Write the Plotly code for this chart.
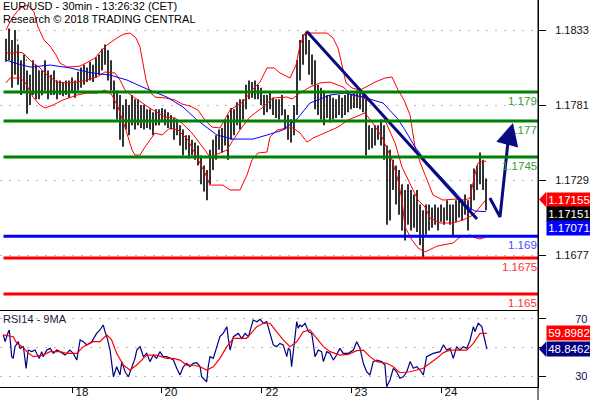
import plotly.graph_objects as go

# ---------------- data ----------------
bar_index = list(range(161))
high = [1.1827, 1.1834, 1.1826, 1.1833, 1.1823, 1.1812, 1.1816, 1.1805, 1.1802, 1.1812,
        1.1809, 1.1805, 1.1805, 1.1812, 1.1805, 1.1802, 1.1805, 1.1798, 1.1798, 1.1797,
        1.1798, 1.1798, 1.1800, 1.1798, 1.1804, 1.1807, 1.1809, 1.1807, 1.1811, 1.1809,
        1.1814, 1.1816, 1.1820, 1.1823, 1.1819, 1.1812, 1.1798, 1.1791, 1.1788, 1.1781,
        1.1785, 1.1781, 1.1788, 1.1785, 1.1785, 1.1781, 1.1781, 1.1778, 1.1778, 1.1776,
        1.1778, 1.1778, 1.1779, 1.1778, 1.1776, 1.1774, 1.1772, 1.1771, 1.1767, 1.1764,
        1.1760, 1.1760, 1.1757, 1.1755, 1.1753, 1.1746, 1.1739, 1.1736, 1.1750, 1.1757,
        1.1760, 1.1764, 1.1765, 1.1771, 1.1774, 1.1779, 1.1778, 1.1783, 1.1785, 1.1785,
        1.1795, 1.1798, 1.1797, 1.1798, 1.1795, 1.1793, 1.1788, 1.1788, 1.1790, 1.1786,
        1.1785, 1.1785, 1.1788, 1.1778, 1.1774, 1.1771, 1.1781, 1.1812, 1.1826, 1.1830,
        1.1832, 1.1826, 1.1816, 1.1812, 1.1795, 1.1793, 1.1791, 1.1788, 1.1788, 1.1786,
        1.1785, 1.1788, 1.1786, 1.1788, 1.1790, 1.1788, 1.1790, 1.1791, 1.1790, 1.1788,
        1.1785, 1.1767, 1.1765, 1.1767, 1.1767, 1.1771, 1.1767, 1.1753, 1.1750, 1.1743,
        1.1739, 1.1736, 1.1726, 1.1722, 1.1726, 1.1722, 1.1719, 1.1722, 1.1712, 1.1708,
        1.1712, 1.1712, 1.1710, 1.1712, 1.1710, 1.1712, 1.1710, 1.1715, 1.1712, 1.1712,
        1.1715, 1.1717, 1.1715, 1.1719, 1.1715, 1.1726, 1.1737, 1.1739, 1.1748, 1.1743,
        1.1730]
low = [1.1811, 1.1812, 1.1793, 1.1802, 1.1795, 1.1788, 1.1791, 1.1775, 1.1781, 1.1788,
       1.1785, 1.1785, 1.1788, 1.1791, 1.1785, 1.1788, 1.1788, 1.1785, 1.1788, 1.1787,
       1.1788, 1.1786, 1.1790, 1.1786, 1.1791, 1.1793, 1.1795, 1.1797, 1.1798, 1.1797,
       1.1800, 1.1802, 1.1805, 1.1809, 1.1798, 1.1791, 1.1778, 1.1771, 1.1757, 1.1752,
       1.1764, 1.1760, 1.1767, 1.1764, 1.1767, 1.1765, 1.1764, 1.1765, 1.1764, 1.1760,
       1.1767, 1.1767, 1.1769, 1.1767, 1.1765, 1.1764, 1.1757, 1.1760, 1.1753, 1.1746,
       1.1750, 1.1744, 1.1746, 1.1743, 1.1739, 1.1726, 1.1721, 1.1715, 1.1726, 1.1736,
       1.1743, 1.1750, 1.1748, 1.1753, 1.1743, 1.1757, 1.1760, 1.1767, 1.1764, 1.1771,
       1.1778, 1.1785, 1.1786, 1.1785, 1.1785, 1.1781, 1.1774, 1.1776, 1.1778, 1.1774,
       1.1772, 1.1771, 1.1774, 1.1764, 1.1757, 1.1755, 1.1760, 1.1774, 1.1798, 1.1809,
       1.1816, 1.1802, 1.1795, 1.1778, 1.1774, 1.1771, 1.1767, 1.1772, 1.1769, 1.1771,
       1.1772, 1.1774, 1.1772, 1.1774, 1.1776, 1.1778, 1.1779, 1.1779, 1.1778, 1.1776,
       1.1746, 1.1750, 1.1751, 1.1753, 1.1757, 1.1753, 1.1743, 1.1698, 1.1701, 1.1722,
       1.1712, 1.1705, 1.1694, 1.1687, 1.1698, 1.1694, 1.1696, 1.1693, 1.1684, 1.1675,
       1.1691, 1.1694, 1.1696, 1.1698, 1.1694, 1.1700, 1.1698, 1.1701, 1.1698, 1.1690,
       1.1700, 1.1703, 1.1701, 1.1705, 1.1694, 1.1708, 1.1715, 1.1722, 1.1726, 1.1722,
       1.1708]
close = [1.1823, 1.1816, 1.1805, 1.1826, 1.1798, 1.1795, 1.1812, 1.1788, 1.1798, 1.1791,
         1.1805, 1.1788, 1.1802, 1.1795, 1.1798, 1.1791, 1.1798, 1.1795, 1.1791, 1.1793,
         1.1795, 1.1790, 1.1795, 1.1793, 1.1800, 1.1802, 1.1798, 1.1804, 1.1802, 1.1805,
         1.1811, 1.1809, 1.1816, 1.1812, 1.1805, 1.1795, 1.1788, 1.1778, 1.1767, 1.1774,
         1.1771, 1.1778, 1.1774, 1.1779, 1.1772, 1.1776, 1.1767, 1.1774, 1.1771, 1.1767,
         1.1772, 1.1774, 1.1772, 1.1771, 1.1772, 1.1767, 1.1764, 1.1765, 1.1757, 1.1753,
         1.1755, 1.1750, 1.1751, 1.1748, 1.1743, 1.1733, 1.1729, 1.1726, 1.1743, 1.1750,
         1.1755, 1.1757, 1.1760, 1.1764, 1.1767, 1.1772, 1.1771, 1.1778, 1.1774, 1.1781,
         1.1791, 1.1791, 1.1793, 1.1790, 1.1788, 1.1785, 1.1781, 1.1785, 1.1781, 1.1778,
         1.1779, 1.1774, 1.1776, 1.1767, 1.1764, 1.1765, 1.1778, 1.1805, 1.1816, 1.1823,
         1.1819, 1.1812, 1.1802, 1.1788, 1.1785, 1.1781, 1.1778, 1.1785, 1.1774, 1.1778,
         1.1779, 1.1781, 1.1776, 1.1785, 1.1781, 1.1785, 1.1786, 1.1788, 1.1781, 1.1785,
         1.1760, 1.1757, 1.1760, 1.1764, 1.1762, 1.1765, 1.1750, 1.1715, 1.1733, 1.1736,
         1.1726, 1.1715, 1.1708, 1.1705, 1.1715, 1.1705, 1.1708, 1.1701, 1.1694, 1.1698,
         1.1705, 1.1701, 1.1705, 1.1707, 1.1701, 1.1708, 1.1705, 1.1710, 1.1705, 1.1707,
         1.1710, 1.1712, 1.1708, 1.1712, 1.1708, 1.1719, 1.1733, 1.1736, 1.1739, 1.1729,
         1.17151]
# open of each 30-min bar = previous bar's close
open_ = [close[0]] + close[:-1]

upper_x = [0, 2, 4.67, 7.33, 9.33, 10.67, 12.67, 14.67, 16.67, 18,
           20.33, 24.67, 27.33, 29.67, 31.33, 33.67, 37, 39.33, 41.33, 43.33,
           44.67, 45.67, 46.67, 48, 49.67, 53, 56.33, 58.67, 61.33, 64,
           66.33, 68.67, 71.33, 74.67, 79, 82, 84.67, 87, 89.33, 91.33,
           94.67, 96.67, 98, 99.67, 103, 107, 109, 110.67, 112, 113.33,
           115.33, 118, 120.67, 123, 126.33, 128.67, 130.67, 132.67, 134.67, 136.33,
           138, 140.33, 142.33, 145.67, 149.67, 153, 154.67, 156, 157.33, 160]
upper_y = [1.18330, 1.18413, 1.18483, 1.18503, 1.18455, 1.18351, 1.18261, 1.18219, 1.18157, 1.18101,
           1.18073, 1.18080, 1.18108, 1.18136, 1.18177, 1.18226, 1.18275, 1.18302, 1.18309, 1.18275,
           1.18212, 1.18108, 1.17983, 1.17900, 1.17865, 1.17859, 1.17845, 1.17817, 1.17803, 1.17775,
           1.17706, 1.17657, 1.17651, 1.17775, 1.17831, 1.17914, 1.17969, 1.18067, 1.18067, 1.18032,
           1.17997, 1.18087, 1.18226, 1.18309, 1.18309, 1.18309, 1.18275, 1.18205, 1.18087, 1.17963,
           1.17928, 1.17914, 1.17942, 1.17969, 1.17997, 1.18004, 1.17914, 1.17845, 1.17741, 1.17519,
           1.17415, 1.17290, 1.17186, 1.17151, 1.17158, 1.17151, 1.17165, 1.17304, 1.17408, 1.17422]

mid_x = [0, 2, 3.67, 5.67, 7.33, 9, 11.33, 13.67, 17, 20.33,
         23.67, 27, 30.33, 33, 36.33, 38, 39.67, 42, 44, 47.33,
         50.67, 53, 56.33, 58.67, 62, 65.33, 68, 71.33, 73.67, 75.67,
         78, 81.33, 85.67, 89, 93.67, 95.33, 98, 101.33, 104.67, 108,
         112.33, 115.33, 118.67, 122, 125.33, 127.33, 129.67, 132, 135.33, 137.33,
         139.67, 141.33, 144.67, 149, 152.33, 155.67, 158, 160]
mid_y = [1.18171, 1.18171, 1.18177, 1.18171, 1.18136, 1.18101, 1.18067, 1.18018, 1.17969, 1.17963,
         1.17969, 1.17983, 1.18004, 1.18039, 1.18032, 1.17983, 1.17914, 1.17872, 1.17845, 1.17796,
         1.17755, 1.17727, 1.17720, 1.17685, 1.17616, 1.17519, 1.17450, 1.17477, 1.17498, 1.17567,
         1.17637, 1.17727, 1.17796, 1.17859, 1.17865, 1.17852, 1.17893, 1.17935, 1.17963, 1.17969,
         1.17935, 1.17879, 1.17865, 1.17824, 1.17755, 1.17657, 1.17547, 1.17380, 1.17242, 1.17151,
         1.17103, 1.17027, 1.16992, 1.16992, 1.17013, 1.17047, 1.17103, 1.17155]

lower_x = [0, 1.33, 4.67, 6.33, 9, 11.33, 13, 15.67, 19, 23.67,
           27, 30.33, 33, 35.33, 37.33, 39.67, 42, 43, 44.67, 46.33,
           49.67, 52, 54.67, 57.33, 60.67, 64, 66.33, 68, 72.33, 74.67,
           78, 80.33, 82, 84, 87, 88, 90.33, 93.67, 95.67, 98,
           100.33, 102.33, 104.67, 107.33, 110.67, 114, 117.33, 119.67, 122, 125.33,
           128.67, 130.67, 132, 133, 135.33, 137.33, 139.67, 143.67, 149, 151.33,
           154.67, 156.67, 158, 160]
lower_y = [1.17963, 1.17997, 1.17997, 1.17969, 1.17865, 1.17810, 1.17789, 1.17810, 1.17845, 1.17879,
           1.17893, 1.17893, 1.17914, 1.17879, 1.17796, 1.17657, 1.17498, 1.17463, 1.17463, 1.17519,
           1.17616, 1.17602, 1.17651, 1.17637, 1.17567, 1.17429, 1.17339, 1.17255, 1.17255, 1.17221,
           1.17221, 1.17325, 1.17429, 1.17477, 1.17484, 1.17588, 1.17637, 1.17651, 1.17651, 1.17616,
           1.17553, 1.17581, 1.17602, 1.17623, 1.17657, 1.17706, 1.17734, 1.17755, 1.17692, 1.17588,
           1.17429, 1.17290, 1.17151, 1.16964, 1.16874, 1.16819, 1.16791, 1.16832, 1.16853, 1.16895,
           1.16909, 1.16888, 1.16881, 1.16895]

ma_x = [0, 3, 8, 14.67, 21.33, 27, 31.33, 34.67, 40.33, 47,
        53.67, 59, 63.67, 70.33, 75.67, 82.33, 87, 92.33, 97, 101.33,
        108, 113, 119, 125.67, 130.33, 133, 136.33, 139.67, 144.67, 149.67,
        154, 156.33, 160]
ma_y = [1.18122, 1.18101, 1.18073, 1.18087, 1.18067, 1.18039, 1.18025, 1.18018, 1.17983, 1.17921,
        1.17865, 1.17796, 1.17706, 1.17602, 1.17574, 1.17574, 1.17602, 1.17637, 1.17713, 1.17824,
        1.17879, 1.17893, 1.17865, 1.17824, 1.17720, 1.17637, 1.17519, 1.17429, 1.17318, 1.17207,
        1.17103, 1.17075, 1.17071]

levels = [1.179, 1.177, 1.1745, 1.169, 1.1675, 1.165]
level_labels = ["1.179", "1.177", "1.1745", "1.169", "1.1675", "1.165"]

trend_x = [100.3, 157.0]
trend_y = [1.18320, 1.17020]
proj_x = [161.3, 164.67, 167.33]
proj_y = [1.17165, 1.17034, 1.17555]
proj_target = (169.0, 1.17686)

rsi_x = [-0.9, -0.3, 0.8, 1.1, 1.9, 2.4, 3.0, 4.1, 4.7, 5.8, 6.7, 7.4, 8.6, 9.7, 10.2, 11.1, 11.9, 12.4,
         13.6, 14.7, 15.8, 16.9, 18.0, 19.7, 21.3, 22.4, 23.6, 24.7, 25.8, 26.9, 28.6, 30.2, 31.3, 32.4,
         33.0, 33.6, 34.7, 35.8, 36.9, 38.0, 38.6, 39.7, 40.8, 41.9, 43.0, 43.6, 44.7, 45.8, 46.9, 48.0,
         49.1, 50.2, 51.3, 52.4, 53.6, 54.7, 55.8, 56.9, 58.0, 59.1, 60.2, 61.3, 62.4, 63.6, 64.7, 65.2,
         65.8, 66.9, 67.4, 68.0, 69.1, 70.2, 71.3, 72.4, 73.6, 74.1, 74.7, 75.8, 77.4, 78.6, 79.7, 80.8,
         82.4, 83.6, 84.7, 85.8, 86.9, 88.0, 89.1, 90.2, 91.3, 92.4, 93.6, 94.1, 94.7, 95.2, 95.8, 96.3,
         96.9, 97.4, 98.0, 98.6, 99.7, 100.8, 101.9, 102.4, 103.0, 104.1, 105.2, 105.8, 106.9, 108.0,
         109.1, 110.2, 111.3, 112.4, 114.1, 115.8, 116.9, 118.0, 119.1, 120.2, 121.3, 122.4, 123.6,
         125.2, 126.3, 126.9, 128.0, 129.1, 130.2, 131.3, 132.4, 133.6, 134.7, 135.8, 136.9, 138.0,
         139.1, 140.2, 141.3, 142.4, 144.7, 145.8, 146.9, 148.0, 149.1, 150.2, 151.3, 152.4, 153.6,
         154.7, 155.8, 156.3, 157.4, 158.6, 159.5, 160.3]
rsi_y = [58.8, 54.1, 61.1, 62.3, 43.6, 42.4, 50.6, 54.1, 49.4, 50.6, 35.4, 48.2, 47.1, 48.2, 45.9, 42.4, 47.1, 43.6,
         48.2, 49.4, 45.9, 48.2, 47.1, 44.7, 48.2, 45.9, 41.2, 55.3, 54.1, 51.8, 54.1, 59.9, 62.3, 65.8,
         61.1, 57.6, 48.2, 29.5, 36.5, 30.7, 40.1, 33.0, 29.5, 35.4, 42.4, 48.2, 50.6, 43.6, 45.9, 40.1,
         44.7, 42.4, 47.1, 43.6, 43.6, 42.4, 41.2, 35.4, 30.7, 36.5, 38.9, 36.5, 38.9, 39.4, 36.5, 29.5,
         28.4, 26.0, 36.5, 43.6, 42.4, 50.6, 57.6, 59.9, 64.6, 56.4, 48.2, 57.6, 59.9, 56.4, 59.9, 57.6,
         69.3, 68.1, 69.8, 67.0, 68.1, 59.9, 51.8, 50.6, 52.9, 51.8, 43.6, 49.4, 48.2, 36.5, 48.2, 59.9,
         68.1, 63.5, 65.8, 64.6, 67.0, 61.1, 59.9, 52.9, 43.6, 48.2, 47.1, 40.1, 47.1, 45.9,
         41.2, 44.7, 49.4, 45.9, 45.9, 48.2, 54.1, 49.4, 38.9, 33.0, 30.7, 40.1, 41.2,
         40.1, 37.7, 22.5, 27.2, 35.4, 33.0, 28.4, 29.5, 33.0, 40.1, 35.4, 36.5, 34.2,
         30.7, 43.6, 44.7, 45.9, 47.1, 51.8, 48.2, 49.4, 42.4, 50.6, 48.2, 50.6, 49.4,
         55.3, 64.6, 61.1, 67.0, 64.6, 56.0, 48.8462]

rsi_ma_x = [-0.9, 2.4, 3.6, 5.8, 6.9, 9.1, 12.4, 14.7, 18.0, 20.2, 23.6, 25.8, 29.1, 31.3, 33.6, 35.2,
            36.9, 39.1, 41.3, 43.6, 45.8, 46.9, 50.2, 53.6, 55.8, 58.0, 60.2, 62.4, 64.7, 66.9, 69.1,
            71.3, 73.6, 75.8, 80.2, 83.6, 85.8, 88.0, 90.2, 92.4, 94.7, 96.9, 99.1, 101.3, 103.6, 105.8,
            108.0, 111.3, 114.1, 116.9, 119.1, 121.3, 123.6, 126.9, 129.1, 131.3, 134.7, 136.9, 139.1,
            141.3, 143.6, 145.8, 148.0, 151.3, 153.6, 155.8, 158.0, 160.3]
rsi_ma_y = [58.8, 57.6, 52.9, 50.0, 47.1, 43.6, 44.7, 47.1, 47.1, 45.9, 45.9, 50.6, 54.1, 54.1, 58.8, 55.3,
            45.9, 37.7, 34.2, 37.7, 42.4, 44.7, 44.7, 42.4, 42.4, 41.2, 37.7, 37.7, 36.5, 34.2, 36.5,
            42.4, 50.6, 56.4, 56.4, 64.6, 67.0, 67.0, 61.1, 55.3, 50.6, 54.0, 61.1, 62.3, 56.4, 50.6,
            47.1, 44.7, 45.2, 47.8, 48.2, 43.6, 40.1, 38.9, 36.5, 32.3, 33.0, 34.2, 35.4,
            38.9, 42.4, 46.4, 48.2, 48.2, 48.2, 52.9, 59.9, 59.8982]

price_ticks = [1.1833, 1.1781, 1.1729, 1.1677]
rsi_ticks = [30, 50, 70]
rsi_tick_labels = ["30", "", "70"]
day_tick_pos = [22, 51.67, 85.33, 115, 145]
day_tick_labels = ["18", "20", "22", "23", "24"]

last_mid = 1.17155
last_close = 1.17151
last_ma = 1.17071
last_rsi = 48.8462
last_rsi_ma = 59.8982

title_lines = ["EUR/USD - 30min - 13:26:32 (CET)", "Research © 2018 TRADING CENTRAL"]
rsi_title = "RSI14 - 9MA"

# ---------------- styles ----------------
FONT = "Liberation Sans, Arial, sans-serif"
NAVY = "#0a0a80"
level_colors = ["#008000", "#008000", "#008000", "#0000ff", "#ff0000", "#ff0000"]
level_text_colors = ["#3a9a3a", "#3a9a3a", "#3a9a3a", "#4a4aff", "#ff3030", "#ff3030"]
X_RANGE = [-2, 177.33]

fig = go.Figure()

fig.add_trace(go.Ohlc(x=bar_index, open=open_, high=high, low=low, close=close,
                      increasing=dict(line=dict(color="black", width=1.6)),
                      decreasing=dict(line=dict(color="black", width=1.6)),
                      tickwidth=0.2, xaxis="x", yaxis="y", hoverinfo="skip", showlegend=False))

for xs, ys, col in [(upper_x, upper_y, "#ff0000"), (lower_x, lower_y, "#ff0000"),
                    (mid_x, mid_y, "#ff0000"), (ma_x, ma_y, "#0000ff")]:
    fig.add_trace(go.Scatter(x=xs, y=ys, mode="lines", line=dict(color=col, width=1),
                             xaxis="x", yaxis="y", hoverinfo="skip", showlegend=False))

fig.add_trace(go.Scatter(x=trend_x, y=trend_y, mode="lines", line=dict(color=NAVY, width=3),
                         xaxis="x", yaxis="y", hoverinfo="skip", showlegend=False))
fig.add_trace(go.Scatter(x=proj_x, y=proj_y, mode="lines", line=dict(color=NAVY, width=3),
                         xaxis="x", yaxis="y", hoverinfo="skip", showlegend=False, cliponaxis=False))

fig.add_trace(go.Scatter(x=rsi_x, y=rsi_y, mode="lines", line=dict(color="#000080", width=1.2),
                         xaxis="x2", yaxis="y2", hoverinfo="skip", showlegend=False))
fig.add_trace(go.Scatter(x=rsi_ma_x, y=rsi_ma_y, mode="lines", line=dict(color="#ff0000", width=1.2),
                         xaxis="x2", yaxis="y2", hoverinfo="skip", showlegend=False))

shapes = []
annotations = []
for lv, lab, lc, tc in zip(levels, level_labels, level_colors, level_text_colors):
    shapes.append(dict(type="line", xref="paper", yref="y", x0=0.0065, x1=1, y0=lv, y1=lv,
                       line=dict(color=lc, width=3)))
    annotations.append(dict(xref="paper", yref="y", x=1, y=lv, text=lab, showarrow=False,
                            xanchor="right", yanchor="top", yshift=-1, xshift=1,
                            font=dict(family=FONT, size=11.5, color=tc)))

# projection arrow head
annotations.append(dict(xref="x", yref="y", x=proj_target[0], y=proj_target[1],
                        ax=proj_x[-1], ay=proj_y[-1], axref="x", ayref="y", text="",
                        showarrow=True, arrowhead=2, arrowsize=1.5, arrowwidth=3,
                        arrowcolor=NAVY, standoff=0))

# titles
for k, line in enumerate(title_lines):
    annotations.append(dict(xref="paper", yref="paper", x=0, y=1, xshift=1, yshift=2 - 13 * k,
                            xanchor="left", yanchor="top", showarrow=False, text=line,
                            font=dict(family=FONT, size=11, color="black")))
annotations.append(dict(xref="paper", yref="paper", x=0, y=0.19638, xshift=1, yshift=0,
                        xanchor="left", yanchor="top", showarrow=False, text=rsi_title,
                        font=dict(family=FONT, size=11, color="#1a1a40")))

# price tags on right
TAGX = 546 / 538
def tag(text, y, yref, bg, yshift=0):
    return dict(xref="paper", yref=yref, x=TAGX, y=y, yshift=yshift, xanchor="left",
                yanchor="middle", text=text, showarrow=False, bgcolor=bg, width=42, height=12,
                borderpad=1, align="center", font=dict(family=FONT, size=11.5, color="white"))

annotations.append(tag(f"{last_mid:.5f}", last_mid, "y", "#ff0000"))
annotations.append(tag(f"{last_close:.5f}", last_mid, "y", "#000000", yshift=-14))
annotations.append(tag(f"{last_ma:.5f}", last_mid, "y", "#0000ff", yshift=-28))
annotations.append(tag(f"{last_rsi_ma:.4f}", last_rsi_ma, "y2", "#ff0000"))
annotations.append(tag(f"{last_rsi:.4f}", last_rsi, "y2", "#000080"))

px_price = 0.0052 / 75
shapes.append(dict(type="path", xref="paper", yref="y",
                   path=f"M 1.002 {last_mid} L {TAGX} {last_mid + 7.5 * px_price} L {TAGX} {last_mid - 7.5 * px_price} Z",
                   fillcolor="#ff0000", line=dict(width=0)))
px_rsi = 40 / 57
shapes.append(dict(type="path", xref="paper", yref="y2",
                   path=f"M 1.002 {last_rsi} L {TAGX} {last_rsi + 7.5 * px_rsi} L {TAGX} {last_rsi - 7.5 * px_rsi} Z",
                   fillcolor="#000080", line=dict(width=0)))
# full-height right border
shapes.append(dict(type="line", xref="paper", yref="paper", x0=1, x1=1, y0=-0.04, y1=1,
                   line=dict(color="black", width=1)))

axis_font = dict(family=FONT, size=11, color="#111111")
fig.update_layout(
    width=590, height=400, margin=dict(l=0, r=52, t=0, b=13),
    paper_bgcolor="white", plot_bgcolor="white", showlegend=False,
    xaxis=dict(domain=[0, 1], anchor="y", range=X_RANGE, showticklabels=False, ticks="",
               showgrid=False, zeroline=False, showline=True, linecolor="black", linewidth=1,
               rangeslider=dict(visible=False), automargin=False),
    xaxis2=dict(domain=[0, 1], anchor="y2", range=X_RANGE, tickmode="array", tickvals=day_tick_pos,
                ticktext=day_tick_labels, ticks="outside", ticklen=5, tickcolor="black",
                ticklabelstandoff=-11, ticklabelshift=10,
                showgrid=False, zeroline=False, showline=True, linecolor="black", linewidth=1,
                tickfont=dict(family=FONT, size=11.5, color="#111111"), automargin=False),
    yaxis=dict(domain=[0.19897, 1], anchor="x", side="right", range=[1.16389, 1.18538],
               tickmode="array", tickvals=price_ticks, ticktext=[f"{v:.4f}" for v in price_ticks],
               ticks="outside", ticklen=7, tickcolor="black", ticklabelstandoff=7,
               showgrid=True, gridcolor="#b8b8b8", griddash="2px,7px", gridwidth=1,
               zeroline=False, showline=True, linecolor="black", linewidth=1,
               tickfont=axis_font, automargin=False),
    yaxis2=dict(domain=[0, 0.19638], anchor="x2", side="right", range=[22.3, 75.6],
                tickmode="array", tickvals=rsi_ticks, ticktext=rsi_tick_labels,
                ticks="outside", ticklen=7, tickcolor="black", ticklabelstandoff=27,
                showgrid=True, gridcolor="#b8b8b8", griddash="2px,7px", gridwidth=1,
                zeroline=False, showline=True, linecolor="black", linewidth=1,
                tickfont=dict(family=FONT, size=11, color="#10104a"), automargin=False),
    shapes=shapes, annotations=annotations,
)

fig.write_html("out.html", config={"displayModeBar": False},
               post_script="document.body.style.margin='0';document.body.style.padding='0';"
                           "document.documentElement.style.overflow='hidden';")
